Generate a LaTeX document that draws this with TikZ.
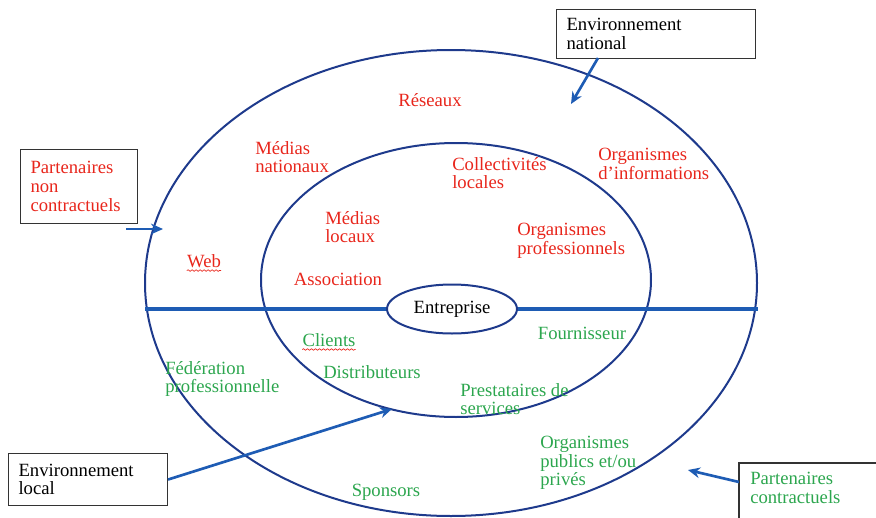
\documentclass[tikz,border=0pt]{standalone}
\usepackage{fontspec}
\setmainfont{Liberation Serif}
\usetikzlibrary{arrows.meta,decorations.pathmorphing,shapes.geometric}
\definecolor{navy}{RGB}{30,58,140}
\definecolor{lineblue}{RGB}{30,92,180}
\definecolor{txtred}{RGB}{232,38,28}
\definecolor{txtgreen}{RGB}{44,166,78}
\tikzset{
  ring/.style={draw=navy, line width=1.5pt},
  divider/.style={draw=lineblue, line width=3pt},
  arr/.style={draw=lineblue, line width=2pt, -{Stealth[length=9pt,width=8pt]}},
  lbl/.style={font=\fontsize{14}{14}\selectfont, inner sep=0pt, align=left},
  redtxt/.style={lbl, text=txtred},
  greentxt/.style={lbl, text=txtgreen},
  box/.style={lbl, draw=black!80, line width=0.8pt, anchor=north west, inner xsep=7.5pt, text=black},
  squiggle/.style={draw=txtred, line width=0.5pt, decorate, decoration={snake, amplitude=0.6pt, segment length=3pt}}
}

\begin{document}
\begin{tikzpicture}[x=0.75pt, y=-0.75pt]
		%%%%% START %%%%%
		\useasboundingbox (0,0) rectangle (876,518);
		
		% rings
		\draw[ring] (451,283) ellipse (306 and 233);
		\draw[ring] (456,280) ellipse (195 and 137);
		
		% centre
		\node[lbl, ring, ellipse, text=black, minimum width=130*0.75pt, minimum height=49*0.75pt] (ent) at (452,309) {Entreprise};
		\draw[divider] (145,309) -- (ent.west);
		\draw[divider] (ent.east) -- (758,309);
		
		% non contractual partners
		\node[redtxt] (res) at (430,100) {Réseaux};
		\node[redtxt, anchor=west] (mnat) at (255,157) {Médias\\nationaux};
		\node[redtxt, anchor=west] (coll) at (452,173) {Collectivités\\locales};
		\node[redtxt, anchor=west] (oinf) at (598,164) {Organismes\\d’informations};
		\node[redtxt, anchor=west] (mloc) at (325,227) {Médias\\locaux};
		\node[redtxt, anchor=west] (opro) at (517,241) {Organismes\\professionnels};
		\node[redtxt] (web) at (204,261) {Web};
		\node[redtxt] (asso) at (338,279) {Association};
		\draw[squiggle] ([yshift=-2pt]web.south west) -- ([yshift=-2pt]web.south east);
		
		% contractual partners
		\node[greentxt] (cli) at (329,340) {Clients};
		\node[greentxt] (four) at (582,333) {Fournisseur};
		\node[greentxt, anchor=west] (fed) at (165,379) {Fédération\\professionnelle};
		\node[greentxt] (dist) at (372,372) {Distributeurs};
		\node[greentxt, anchor=west] (prest) at (460,399) {Prestataires de\\services};
		\node[greentxt, anchor=west] (opub) at (540,463) {Organismes\\publics et/ou\\privés};
		\node[greentxt] (spon) at (386,492) {Sponsors};
		\draw[squiggle] ([yshift=-2pt]cli.south west) -- ([yshift=-2pt]cli.south east);
		
		% legend boxes
		\node[box, text=txtred, text width=117*0.75pt-15pt, minimum height=74*0.75pt] (nonc) at (20,149) {Partenaires\\non\\contractuels};
		\node[box, text width=199*0.75pt-15pt, minimum height=49*0.75pt] (natl) at (556,9) {Environnement\\national};
		\node[box, text width=159*0.75pt-15pt, minimum height=52*0.75pt] (locl) at (8,453) {Environnement\\local};
		\node[greentxt, anchor=west] (contr) at (750,488) {Partenaires\\contractuels};
		\draw[draw=black!80, line width=0.8pt] (739,530) |- (890,463);
		
		% arrows
		\coordinate (nonc-a) at (126,229);
		\coordinate (nonc-b) at (163,229);
		\coordinate (natl-a) at (598,58);
		\coordinate (natl-b) at (571,104);
		\coordinate (locl-b) at (392,409);
		\coordinate (contr-a) at (739,482);
		\coordinate (contr-b) at (688,470);
		\draw[arr] (nonc-a) -- (nonc-b);
		\draw[arr] (natl-a) -- (natl-b);
		\draw[arr] (locl.east) -- (locl-b);
		\draw[arr] (contr-a) -- (contr-b);
		%%%%% END %%%%%
\end{tikzpicture}
\end{document}
